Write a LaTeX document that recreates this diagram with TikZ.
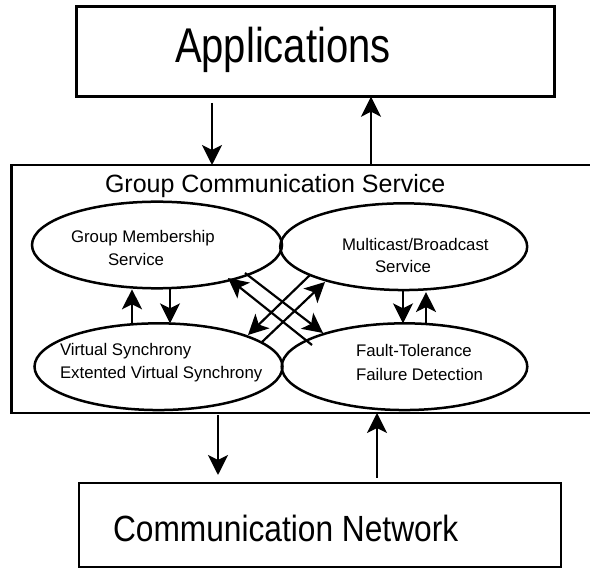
\documentclass[tikz,border=0pt]{standalone}
\usepackage{fontspec}
\setmainfont{Liberation Sans}
\usetikzlibrary{arrows.meta,shapes.geometric}
\begin{document}
\begin{tikzpicture}[x=1pt,y=-1pt,
  boxshape/.style={draw,rectangle,line width=2.7pt,outer sep=0pt,inner sep=0pt},
  ovalshape/.style={draw,ellipse,line width=2.5pt,outer sep=0pt,inner sep=0pt},
  txt/.style={anchor=base west,inner sep=0pt,outer sep=0pt},
  smalltxt/.style={txt,font=\fontsize{16.8}{20}\selectfont},
  arr/.style={line width=2.2pt,-{Stealth[length=20pt,width=20pt,inset=5pt]}}]
\clip (0,0) rectangle (590,569);
\fill[white] (0,0) rectangle (590,569);
% boxes
\node[boxshape,minimum width=478pt,minimum height=90pt] (app) at (315.8,51.7) {};
\node[boxshape,minimum width=590pt,minimum height=248pt] (gcs) at (306.5,289) {};
\node[boxshape,minimum width=482pt,minimum height=84pt] (net) at (320,525) {};
% box texts
\begin{scope}[shift={(175,63)},yscale=1.22]
\node[txt,transform shape,font=\fontsize{40}{44}\selectfont] (apptxt) at (0,0) {Applications};
\end{scope}
\node[txt,font=\fontsize{25}{28}\selectfont] (gcstxt) at (105,193) {Group Communication Service};
\begin{scope}[shift={(113,542)},yscale=1.15]
\node[txt,transform shape,font=\fontsize{31.7}{34}\selectfont] (nettxt) at (0,0) {Communication Network};
\end{scope}
% ellipses
\node[ovalshape,minimum width=250pt,minimum height=86.6pt] (gm) at (157,245) {};
\node[ovalshape,minimum width=247pt,minimum height=86.7pt] (mb) at (403.7,246.7) {};
\node[ovalshape,minimum width=248pt,minimum height=86.7pt] (vs) at (158.5,366.7) {};
\node[ovalshape,minimum width=245.6pt,minimum height=86.7pt] (ft) at (404.5,366.7) {};
% ellipse texts
\node[smalltxt] (gm1) at (71,243) {Group Membership};
\node[smalltxt] (gm2) at (108,266) {Service};
\node[smalltxt] (mb1) at (342,251) {Multicast/Broadcast};
\node[smalltxt] (mb2) at (375,273) {Service};
\node[smalltxt] (vs1) at (60,356) {Virtual Synchrony};
\node[smalltxt] (vs2) at (60,379) {Extented Virtual Synchrony};
\node[smalltxt] (ft1) at (356,357) {Fault-Tolerance};
\node[smalltxt] (ft2) at (356,381) {Failure Detection};
% arrows between boxes
\coordinate (t1) at (212,103);
\coordinate (t2) at (371,0);
\coordinate (b1) at (218,415);
\coordinate (b2) at (377,478);
\draw[arr] (t1) -- (t1 |- gcs.north);
\draw[arr] (t2 |- gcs.north) -- (t2 |- app.south);
\draw[arr] (b1) -- (218,475);
\draw[arr] (b2) -- (b2 |- gcs.south);
% vertical arrows between ellipses
\coordinate (v1) at (132,0);
\coordinate (v2) at (170,0);
\coordinate (v3) at (403,0);
\coordinate (v4) at (426,0);
\draw[arr] (v1 |- vs.north) -- ([yshift=-1pt]v1 |- gm.south);
\draw[arr] (v2 |- gm.south) -- (v2 |- vs.north);
\draw[arr] (v3 |- mb.south) -- (v3 |- ft.north);
\draw[arr] (v4 |- ft.north) -- ([yshift=-2pt]v4 |- mb.south);
% crossing arrows
\coordinate (ca1) at (312,345); \coordinate (ca2) at (228,278);
\coordinate (cb1) at (245,273); \coordinate (cb2) at (323,333);
\coordinate (cc1) at (262,342); \coordinate (cc2) at (325,282);
\coordinate (cd1) at (310,275); \coordinate (cd2) at (248,335);
\draw[arr] (ca1) -- (ca2);
\draw[arr] (cb1) -- (cb2);
\draw[arr] (cc1) -- (cc2);
\draw[arr] (cd1) -- (cd2);
\end{tikzpicture}
\end{document}
